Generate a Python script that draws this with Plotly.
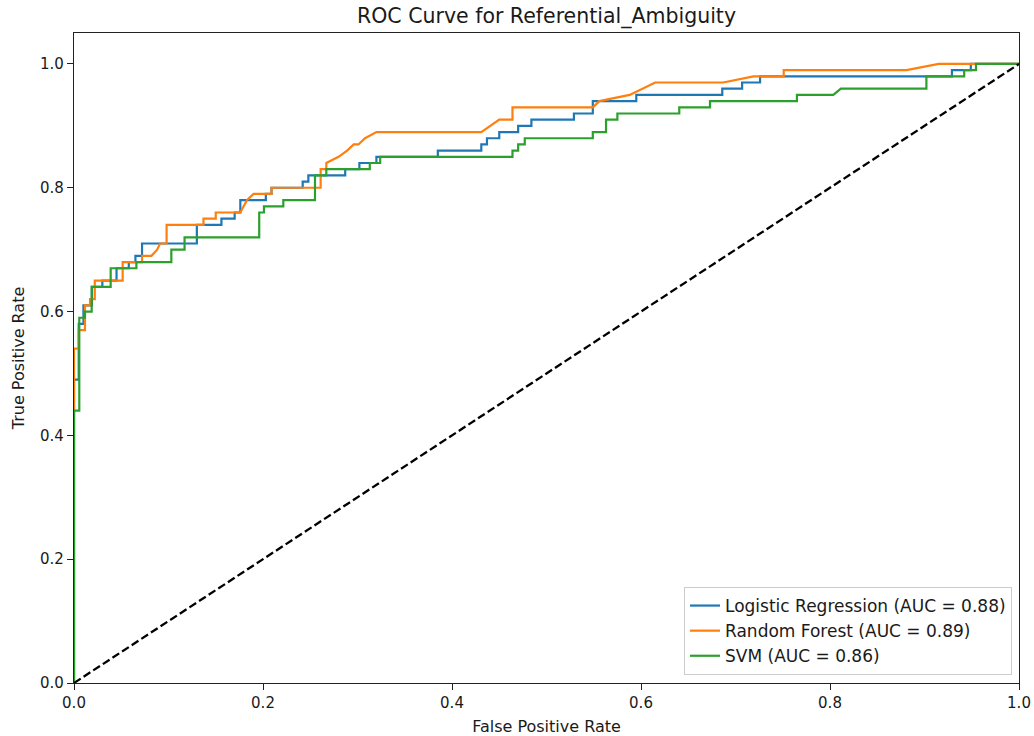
import plotly.graph_objects as go

# ROC data
lr_fpr = [0, 0, 0.005, 0.005, 0.01, 0.01, 0.019, 0.019, 0.03, 0.03, 0.045, 0.045, 0.058, 0.058,
          0.065, 0.065, 0.072, 0.072, 0.13, 0.13, 0.156, 0.156, 0.17, 0.17, 0.176, 0.176, 0.203, 0.203,
          0.209, 0.209, 0.242, 0.242, 0.248, 0.248, 0.287, 0.287, 0.302, 0.302, 0.32, 0.32, 0.385, 0.385,
          0.431, 0.431, 0.437, 0.437, 0.45, 0.45, 0.47, 0.47, 0.484, 0.484, 0.529, 0.529, 0.549, 0.549,
          0.595, 0.595, 0.686, 0.686, 0.707, 0.707, 0.726, 0.726, 0.929, 0.929, 0.949, 0.949, 1.0]
lr_tpr = [0, 0.49, 0.49, 0.58, 0.58, 0.61, 0.61, 0.64, 0.64, 0.65, 0.65, 0.67, 0.67, 0.68,
          0.68, 0.69, 0.69, 0.71, 0.71, 0.74, 0.74, 0.75, 0.75, 0.76, 0.76, 0.78, 0.78, 0.79,
          0.79, 0.80, 0.80, 0.81, 0.81, 0.82, 0.82, 0.83, 0.83, 0.84, 0.84, 0.85, 0.85, 0.86,
          0.86, 0.87, 0.87, 0.88, 0.88, 0.89, 0.89, 0.90, 0.90, 0.91, 0.91, 0.92, 0.92, 0.94,
          0.94, 0.95, 0.95, 0.96, 0.96, 0.97, 0.97, 0.98, 0.98, 0.99, 0.99, 1.0, 1.0]

rf_fpr = [0, 0, 0.005, 0.005, 0.0116, 0.0116, 0.017, 0.017, 0.022, 0.022, 0.0515, 0.0515, 0.072, 0.072,
          0.082, 0.088, 0.091, 0.098, 0.098, 0.137, 0.137, 0.150, 0.150, 0.176, 0.183, 0.19, 0.209, 0.209,
          0.261, 0.261, 0.267, 0.267, 0.28, 0.289, 0.296, 0.301, 0.308, 0.32, 0.431, 0.45, 0.464, 0.464,
          0.549, 0.556, 0.588, 0.615, 0.687, 0.719, 0.751, 0.751, 0.881, 0.915, 1.0]
rf_tpr = [0, 0.54, 0.54, 0.57, 0.57, 0.61, 0.61, 0.62, 0.62, 0.65, 0.65, 0.68, 0.68, 0.69,
          0.69, 0.70, 0.71, 0.71, 0.74, 0.74, 0.75, 0.75, 0.76, 0.76, 0.78, 0.79, 0.79, 0.80,
          0.80, 0.83, 0.83, 0.84, 0.85, 0.86, 0.87, 0.87, 0.88, 0.89, 0.89, 0.91, 0.91, 0.93,
          0.93, 0.94, 0.95, 0.97, 0.97, 0.98, 0.98, 0.99, 0.99, 1.0, 1.0]

svm_fpr = [0, 0, 0.0056, 0.0056, 0.0116, 0.0116, 0.0187, 0.0187, 0.0388, 0.0388, 0.066, 0.066, 0.103, 0.103,
           0.117, 0.117, 0.196, 0.196, 0.201, 0.201, 0.2215, 0.2215, 0.255, 0.255, 0.267, 0.267, 0.313, 0.313,
           0.324, 0.324, 0.464, 0.464, 0.47, 0.47, 0.477, 0.477, 0.549, 0.549, 0.563, 0.563, 0.575, 0.575,
           0.6405, 0.6405, 0.673, 0.673, 0.765, 0.765, 0.8035, 0.8115, 0.902, 0.902, 0.942, 0.942,
           0.9545, 0.9545, 1.0]
svm_tpr = [0, 0.44, 0.44, 0.59, 0.59, 0.60, 0.60, 0.64, 0.64, 0.67, 0.67, 0.68, 0.68, 0.70,
           0.70, 0.72, 0.72, 0.76, 0.76, 0.77, 0.77, 0.78, 0.78, 0.82, 0.82, 0.83, 0.83, 0.84,
           0.84, 0.85, 0.85, 0.86, 0.86, 0.87, 0.87, 0.88, 0.88, 0.89, 0.89, 0.91, 0.91, 0.92,
           0.92, 0.93, 0.93, 0.94, 0.94, 0.95, 0.95, 0.96, 0.96, 0.98, 0.98, 0.99,
           0.99, 1.0, 1.0]

series_names = ["Logistic Regression (AUC = 0.88)", "Random Forest (AUC = 0.89)", "SVM (AUC = 0.86)"]
series_colors = ["#1f77b4", "#ff7f0e", "#2ca02c"]
chance_line = [0, 1]
tick_vals = [0.0, 0.2, 0.4, 0.6, 0.8, 1.0]
tick_text = ["0.0", "0.2", "0.4", "0.6", "0.8", "1.0"]

FONT = "DejaVu Sans"
TXT = "#1a1a1a"

fig = go.Figure()
for xs, ys, name, col in zip([lr_fpr, rf_fpr, svm_fpr], [lr_tpr, rf_tpr, svm_tpr], series_names, series_colors):
    fig.add_trace(go.Scatter(x=xs, y=ys, mode="lines", name=name,
                             line=dict(color=col, width=2.2)))
fig.add_trace(go.Scatter(x=chance_line, y=chance_line, mode="lines", showlegend=False,
                         line=dict(color="black", width=2.3, dash="8px,3.5px")))

axis_common = dict(
    showline=True, mirror=True, linecolor="#222222", linewidth=1.2,
    ticks="outside", ticklen=6, tickwidth=1.2, tickcolor="#222222",
    showgrid=False, zeroline=False, automargin=False,
    tickvals=tick_vals, ticktext=tick_text,
    tickfont=dict(family=FONT, size=15, color=TXT),
)

fig.update_layout(
    width=1034, height=736,
    margin=dict(l=74, r=15, t=33, b=53),
    paper_bgcolor="white", plot_bgcolor="white",
    font=dict(family=FONT, color=TXT),
    title=dict(text="ROC Curve for Referential_Ambiguity", x=0.5, xref="paper",
               xanchor="center", y=1 - 16 / 736, yanchor="middle",
               font=dict(family=FONT, size=20.5, color=TXT)),
    xaxis=dict(range=[0, 1], title=dict(text="False Positive Rate", font=dict(family=FONT, size=16, color=TXT),
                                        standoff=11), **axis_common),
    yaxis=dict(range=[0, 1.05], title=dict(text="True Positive Rate", font=dict(family=FONT, size=16, color=TXT),
                                           standoff=11), **axis_common),
    legend=dict(x=0.9926, y=0.0123, xanchor="right", yanchor="bottom",
                bgcolor="rgba(255,255,255,0.8)", bordercolor="#cccccc", borderwidth=1,
                font=dict(family=FONT, size=17, color=TXT),
                tracegroupgap=0, itemwidth=30),
)

fig.write_html("out.html")
